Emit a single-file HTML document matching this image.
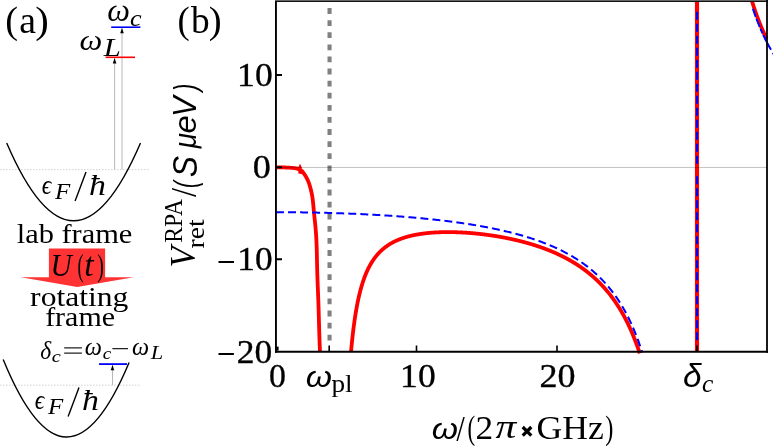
<!DOCTYPE html>
<html><head><meta charset="utf-8"><title>fig</title>
<style>
html,body{margin:0;padding:0;background:#fff;}
body{width:773px;height:446px;overflow:hidden;font-family:"Liberation Serif",serif;}
svg{display:block;will-change:transform;}
text{font-size:100px;}
</style></head><body>
<svg width="773" height="446" viewBox="0 0 773 446">
<rect width="773" height="446" fill="#fff"/>
<line x1="329.55" y1="8.1" x2="329.55" y2="341" stroke="#808080" stroke-width="4.1" stroke-dasharray="5.8 6.3"/>
<g fill="none" stroke="#ff0000" stroke-width="3.8" stroke-linejoin="round">
<path d="M276.00,167.30 L277.06,167.30 L278.11,167.31 L279.17,167.32 L280.22,167.34 L281.28,167.36 L282.34,167.38 L283.39,167.41 L284.45,167.45 L285.50,167.49 L286.56,167.54 L287.61,167.59 L288.67,167.65 L289.72,167.72 L290.77,167.80 L291.83,167.88 L292.88,167.98 L293.93,168.09 L294.98,168.22 L296.03,168.39 L297.06,168.60 L298.08,168.89 L299.07,169.27 L300.03,169.74 L300.93,170.31 L301.76,170.96 L302.51,171.70 L303.18,172.51 L303.81,173.37 L304.40,174.25 L304.98,175.14 L305.54,176.04 L306.09,176.95 L306.61,177.86 L307.10,178.80 L307.56,179.74 L307.99,180.71 L308.39,181.69 L308.77,182.67 L309.12,183.67 L309.45,184.68 L309.76,185.69 L310.06,186.70 L310.34,187.72 L310.61,188.74 L310.87,189.76 L311.13,190.79 L311.37,191.82 L311.60,192.85 L311.82,193.88 L312.02,194.92 L312.20,195.96 L312.37,197.00 L312.52,198.04 L312.66,199.09 L312.79,200.14 L312.91,201.19 L313.02,202.24 L313.13,203.29 L313.23,204.34 L313.33,205.40 L313.43,206.45 L313.52,207.50 L313.62,208.55 L313.71,209.60 L313.81,210.65 L313.91,211.71 L314.01,212.76 L314.11,213.81 L314.21,214.86 L314.32,215.91 L314.43,216.96 L314.54,218.01 L314.66,219.06 L314.77,220.11 L314.88,221.16 L314.99,222.21 L315.10,223.26 L315.21,224.31 L315.31,225.36 L315.42,226.41 L315.52,227.47 L315.61,228.52 L315.70,229.57 L315.79,230.62 L315.87,231.68 L315.95,232.73 L316.02,233.78 L316.09,234.84 L316.16,235.89 L316.22,236.94 L316.28,238.00 L316.34,239.05 L316.39,240.11 L316.44,241.16 L316.49,242.22 L316.53,243.28 L316.57,244.33 L316.61,245.39 L316.65,246.44 L316.69,247.50 L316.72,248.55 L316.75,249.61 L316.78,250.66 L316.80,251.72 L316.83,252.78 L316.85,253.83 L316.88,254.89 L316.90,255.94 L316.92,257.00 L316.94,258.06 L316.96,259.11 L316.99,260.17 L317.01,261.22 L317.03,262.28 L317.05,263.34 L317.07,264.39 L317.09,265.45 L317.12,266.50 L317.14,267.56 L317.16,268.61 L317.19,269.67 L317.22,270.73 L317.25,271.78 L317.28,272.84 L317.31,273.89 L317.35,274.95 L317.38,276.00 L317.42,277.06 L317.45,278.11 L317.49,279.17 L317.53,280.23 L317.57,281.28 L317.61,282.34 L317.65,283.39 L317.69,284.45 L317.73,285.50 L317.78,286.56 L317.82,287.61 L317.86,288.67 L317.90,289.72 L317.94,290.78 L317.99,291.83 L318.03,292.89 L318.07,293.95 L318.11,295.00 L318.15,296.06 L318.19,297.11 L318.23,298.17 L318.27,299.22 L318.31,300.28 L318.35,301.33 L318.38,302.39 L318.42,303.44 L318.45,304.50 L318.49,305.56 L318.52,306.61 L318.56,307.67 L318.59,308.72 L318.62,309.78 L318.65,310.83 L318.68,311.89 L318.71,312.94 L318.75,314.00 L318.78,315.06 L318.81,316.11 L318.84,317.17 L318.87,318.22 L318.89,319.28 L318.92,320.33 L318.95,321.39 L318.98,322.45 L319.01,323.50 L319.04,324.56 L319.07,325.61 L319.10,326.67 L319.13,327.72 L319.16,328.78 L319.20,329.84 L319.23,330.89 L319.26,331.95 L319.29,333.00 L319.32,334.06 L319.36,335.11 L319.39,336.17 L319.43,337.23 L319.46,338.28 L319.50,339.34 L319.53,340.39 L319.57,341.45 L319.61,342.50 L319.65,343.56 L319.69,344.61 L319.73,345.67 L319.77,346.72 L319.82,347.78 L319.86,348.83 L319.91,349.89 L319.95,350.94 L320.00,352.00"/>
<path d="M351.05,351.56 L351.25,349.33 L351.46,347.16 L351.66,345.06 L351.86,343.02 L352.06,341.03 L352.26,339.10 L352.47,337.23 L352.67,335.41 L352.87,333.63 L353.07,331.91 L353.27,330.23 L353.48,328.59 L353.68,327.00 L353.88,325.44 L354.08,323.93 L354.29,322.45 L354.49,321.01 L354.69,319.60 L354.89,318.23 L355.09,316.89 L355.30,315.58 L355.50,314.30 L355.70,313.06 L355.90,311.83 L356.10,310.64 L356.31,309.48 L356.51,308.33 L356.71,307.22 L356.91,306.13 L357.12,305.06 L357.32,304.01 L357.52,302.99 L357.72,301.99 L357.92,301.00 L358.13,300.04 L358.33,299.10 L358.53,298.18 L358.73,297.27 L358.94,296.38 L359.14,295.51 L359.34,294.66 L359.54,293.82 L359.74,293.00 L359.95,292.19 L360.15,291.40 L360.35,290.63 L360.55,289.86 L360.75,289.12 L360.96,288.38 L361.16,287.66 L361.36,286.95 L361.56,286.25 L361.77,285.57 L361.97,284.90 L362.17,284.24 L362.37,283.59 L362.57,282.95 L362.78,282.32 L362.98,281.70 L363.18,281.10 L363.38,280.50 L363.59,279.91 L363.79,279.33 L363.99,278.76 L364.19,278.20 L364.39,277.65 L364.60,277.11 L364.80,276.58 L365.00,276.05 L365.20,275.54 L365.40,275.03 L365.61,274.53 L365.81,274.03 L366.01,273.55 L366.21,273.07 L366.42,272.59 L366.62,272.13 L366.82,271.67 L367.02,271.22 L367.22,270.78 L367.43,270.34 L367.63,269.90 L367.83,269.48 L368.03,269.06 L368.23,268.64 L368.44,268.24 L368.64,267.83 L368.84,267.44 L369.04,267.05 L369.25,266.66 L369.45,266.28 L369.65,265.90 L369.85,265.53 L370.05,265.17 L370.26,264.81 L370.46,264.45 L370.66,264.10 L370.86,263.75 L371.07,263.41 L371.27,263.07 L371.47,262.74 L371.67,262.41 L371.87,262.08 L372.08,261.76 L372.28,261.45 L372.48,261.13 L372.68,260.82 L372.88,260.52 L373.09,260.22 L373.29,259.92 L373.49,259.63 L373.69,259.34 L373.90,259.05 L374.10,258.77 L374.30,258.49 L374.50,258.21 L374.70,257.94 L374.91,257.67 L375.11,257.40 L375.31,257.14 L375.51,256.88 L375.72,256.62 L375.92,256.37 L376.12,256.11 L376.32,255.87 L376.52,255.62 L376.73,255.38 L376.93,255.14 L377.13,254.90 L377.33,254.67 L377.53,254.43 L377.74,254.21 L377.94,253.98 L378.14,253.75 L378.34,253.53 L378.55,253.31 L378.75,253.10 L378.95,252.88 L379.15,252.67 L379.35,252.46 L379.56,252.25 L379.76,252.05 L379.96,251.84 L380.16,251.64 L380.36,251.45 L380.57,251.25 L380.77,251.05 L380.97,250.86 L381.17,250.67 L381.38,250.48 L381.58,250.30 L381.78,250.11 L381.98,249.93 L382.18,249.75 L382.39,249.57 L382.59,249.39 L382.79,249.22 L382.99,249.05 L383.20,248.87 L383.40,248.70 L383.60,248.54 L383.80,248.37 L384.00,248.21 L384.21,248.04 L384.41,247.88 L384.61,247.72 L384.81,247.56 L385.01,247.41 L385.22,247.25 L385.42,247.10 L385.62,246.95 L385.82,246.80 L386.03,246.65 L386.23,246.50 L386.43,246.36 L386.63,246.21 L386.83,246.07 L387.04,245.93 L387.24,245.79 L387.44,245.65 L387.64,245.51 L387.85,245.37 L388.05,245.24 L388.25,245.11 L388.45,244.97 L388.65,244.84 L388.86,244.71 L389.06,244.58 L389.26,244.46 L389.46,244.33 L389.66,244.21 L389.87,244.08 L390.07,243.96 L390.27,243.84 L390.47,243.72 L390.68,243.60 L390.88,243.48 L391.08,243.36 L391.28,243.25 L391.48,243.13 L391.69,243.02 L391.89,242.91 L392.09,242.79 L392.29,242.68 L392.49,242.57 L392.70,242.47 L392.90,242.36 L393.10,242.25 L393.30,242.15 L393.51,242.04 L393.71,241.94 L393.91,241.83 L394.11,241.73 L394.31,241.63 L394.52,241.53 L394.72,241.43 L394.92,241.34 L395.12,241.24 L395.33,241.14 L395.53,241.05 L395.73,240.95 L395.93,240.86 L396.13,240.76 L396.34,240.67 L396.54,240.58 L396.74,240.49 L396.94,240.40 L397.14,240.31 L397.35,240.22 L397.55,240.14 L397.75,240.05 L397.95,239.97 L398.16,239.88 L398.36,239.80 L398.56,239.71 L398.76,239.63 L398.96,239.55 L399.17,239.47 L399.37,239.39 L399.57,239.31 L399.77,239.23 L399.98,239.15 L400.18,239.07 L400.38,238.99 L400.58,238.92 L400.78,238.84 L400.99,238.77 L401.19,238.69 L401.39,238.62 L401.59,238.55 L401.79,238.47 L402.00,238.40 L402.20,238.33 L402.40,238.26 L402.60,238.19 L402.81,238.12 L403.01,238.05 L403.21,237.99 L403.41,237.92 L403.61,237.85 L403.82,237.79 L404.02,237.72 L404.22,237.65 L404.42,237.59 L404.62,237.53 L404.83,237.46 L405.03,237.40 L405.23,237.34 L405.43,237.28 L405.64,237.22 L405.84,237.15 L406.04,237.09 L406.24,237.04 L406.44,236.98 L406.65,236.92 L406.85,236.86 L407.05,236.80 L407.25,236.75 L407.46,236.69 L407.66,236.63 L407.86,236.58 L408.06,236.52 L408.26,236.47 L408.47,236.41 L408.67,236.36 L408.87,236.31 L409.07,236.26 L409.27,236.20 L409.48,236.15 L409.68,236.10 L409.88,236.05 L410.08,236.00 L410.29,235.95 L410.49,235.90 L410.69,235.85 L410.89,235.80 L411.09,235.76 L411.30,235.71 L411.50,235.66 L411.70,235.62 L411.90,235.57 L412.11,235.52 L412.31,235.48 L412.51,235.43 L412.71,235.39 L412.91,235.34 L413.12,235.30 L413.32,235.26 L413.52,235.21 L413.72,235.17 L413.92,235.13 L414.13,235.09 L414.33,235.05 L414.53,235.01 L414.73,234.97 L414.94,234.92 L415.14,234.89 L415.34,234.85 L415.54,234.81 L415.74,234.77 L415.95,234.73 L416.15,234.69 L416.35,234.65 L416.55,234.62 L416.75,234.58 L416.96,234.54 L417.16,234.51 L417.36,234.47 L417.56,234.44 L417.77,234.40 L417.97,234.37 L418.17,234.33 L418.37,234.30 L418.57,234.26 L418.78,234.23 L418.98,234.20 L419.18,234.16 L419.38,234.13 L419.59,234.10 L419.79,234.07 L419.99,234.04 L420.19,234.01 L420.39,233.97 L420.60,233.94 L420.80,233.91 L421.00,233.88 L421.20,233.85 L421.40,233.83 L421.61,233.80 L421.81,233.77 L422.01,233.74 L422.21,233.71 L422.42,233.68 L422.62,233.66 L422.82,233.63 L423.02,233.60 L423.22,233.58 L423.43,233.55 L423.63,233.52 L423.83,233.50 L424.03,233.47 L424.24,233.45 L424.44,233.42 L424.64,233.40 L424.84,233.37 L425.04,233.35 L425.25,233.33 L425.45,233.30 L425.65,233.28 L425.85,233.26 L426.05,233.23 L426.26,233.21 L426.46,233.19 L426.66,233.17 L426.86,233.15 L427.07,233.12 L427.27,233.10 L427.47,233.08 L427.67,233.06 L427.87,233.04 L428.08,233.02 L428.28,233.00 L428.48,232.98 L428.68,232.96 L428.88,232.94 L429.09,232.92 L429.29,232.91 L429.49,232.89 L429.69,232.87 L429.90,232.85 L430.10,232.83 L430.30,232.82 L430.50,232.80 L430.70,232.78 L430.91,232.77 L431.11,232.75 L431.31,232.73 L431.51,232.72 L431.72,232.70 L431.92,232.69 L432.12,232.67 L432.32,232.66 L432.52,232.64 L432.73,232.63 L432.93,232.61 L433.13,232.60 L433.33,232.58 L433.53,232.57 L433.74,232.56 L433.94,232.54 L434.14,232.53 L434.34,232.52 L434.55,232.51 L434.75,232.49 L434.95,232.48 L435.15,232.47 L435.35,232.46 L435.56,232.45 L435.76,232.43 L435.96,232.42 L436.16,232.41 L436.37,232.40 L436.57,232.39 L436.77,232.38 L436.97,232.37 L437.17,232.36 L437.38,232.35 L437.58,232.34 L437.78,232.33 L437.98,232.32 L438.18,232.31 L438.39,232.31 L438.59,232.30 L438.79,232.29 L438.99,232.28 L439.20,232.27 L439.40,232.27 L439.60,232.26 L439.80,232.25 L440.00,232.24 L440.21,232.24 L440.41,232.23 L440.61,232.22 L440.81,232.22 L441.01,232.21 L441.22,232.21 L441.42,232.20 L441.62,232.19 L441.82,232.19 L442.03,232.18 L442.23,232.18 L442.43,232.17 L442.63,232.17 L442.83,232.16 L443.04,232.16 L443.24,232.16 L443.44,232.15 L443.64,232.15 L443.85,232.14 L444.05,232.14 L444.25,232.14 L444.45,232.13 L444.65,232.13 L444.86,232.13 L445.06,232.13 L445.26,232.12 L445.46,232.12 L445.66,232.12 L445.87,232.12 L446.07,232.12 L446.27,232.11 L446.47,232.11 L446.68,232.11 L446.88,232.11 L447.08,232.11 L447.28,232.11 L447.48,232.11 L447.69,232.11 L447.89,232.11 L448.09,232.11 L448.29,232.11 L448.50,232.11 L448.70,232.11 L448.90,232.11 L449.10,232.11 L449.30,232.11 L449.51,232.11 L449.71,232.12 L449.91,232.12 L450.11,232.12 L450.31,232.12 L450.52,232.12 L450.72,232.12 L450.92,232.13 L451.12,232.13 L451.33,232.13 L451.53,232.13 L451.73,232.14 L451.93,232.14 L452.13,232.14 L452.34,232.15 L452.54,232.15 L452.74,232.15 L452.94,232.16 L453.14,232.16 L453.35,232.17 L453.55,232.17 L453.75,232.17 L453.95,232.18 L454.16,232.18 L454.36,232.19 L454.56,232.19 L454.76,232.20 L454.96,232.20 L455.17,232.21 L455.37,232.22 L455.57,232.22 L455.77,232.23 L455.98,232.23 L456.18,232.24 L456.38,232.25 L456.58,232.25 L456.78,232.26 L456.99,232.27 L457.19,232.27 L457.39,232.28 L457.59,232.29 L457.79,232.30 L458.00,232.30 L458.20,232.31 L458.40,232.32 L458.60,232.33 L458.81,232.34 L459.01,232.34 L459.21,232.35 L459.41,232.36 L459.61,232.37 L459.82,232.38 L460.02,232.39 L460.22,232.40 L460.42,232.41 L460.63,232.42 L460.83,232.43 L461.03,232.43 L461.23,232.44 L461.43,232.45 L461.64,232.47 L461.84,232.48 L462.04,232.49 L462.24,232.50 L462.44,232.51 L462.65,232.52 L462.85,232.53 L463.05,232.54 L463.25,232.55 L463.46,232.56 L463.66,232.57 L463.86,232.59 L464.06,232.60 L464.26,232.61 L464.47,232.62 L464.67,232.63 L464.87,232.65 L465.07,232.66 L465.27,232.67 L465.48,232.69 L465.68,232.70 L465.88,232.71 L466.08,232.72 L466.29,232.74 L466.49,232.75 L466.69,232.77 L466.89,232.78 L467.09,232.79 L467.30,232.81 L467.50,232.82 L467.70,232.84 L467.90,232.85 L468.11,232.86 L468.31,232.88 L468.51,232.89 L468.71,232.91 L468.91,232.92 L469.12,232.94 L469.32,232.95 L469.52,232.97 L469.72,232.99 L469.92,233.00 L470.13,233.02 L470.33,233.03 L470.53,233.05 L470.73,233.07 L470.94,233.08 L471.14,233.10 L471.34,233.12 L471.54,233.13 L471.74,233.15 L471.95,233.17 L472.15,233.18 L472.35,233.20 L472.55,233.22 L472.76,233.24 L472.96,233.25 L473.16,233.27 L473.36,233.29 L473.56,233.31 L473.77,233.33 L473.97,233.35 L474.17,233.36 L474.37,233.38 L474.57,233.40 L474.78,233.42 L474.98,233.44 L475.18,233.46 L475.38,233.48 L475.59,233.50 L475.79,233.52 L475.99,233.54 L476.19,233.56 L476.39,233.58 L476.60,233.60 L476.80,233.62 L477.00,233.64 L477.20,233.66 L477.40,233.68 L477.61,233.70 L477.81,233.72 L478.01,233.74 L478.21,233.76 L478.42,233.78 L478.62,233.81 L478.82,233.83 L479.02,233.85 L479.22,233.87 L479.43,233.89 L479.63,233.92 L479.83,233.94 L480.03,233.96 L480.24,233.98 L480.44,234.01 L480.64,234.03 L480.84,234.05 L481.04,234.07 L481.25,234.10 L481.45,234.12 L481.65,234.14 L481.85,234.17 L482.05,234.19 L482.26,234.21 L482.46,234.24 L482.66,234.26 L482.86,234.29 L483.07,234.31 L483.27,234.34 L483.47,234.36 L483.67,234.39 L483.87,234.41 L484.08,234.44 L484.28,234.46 L484.48,234.49 L484.68,234.51 L484.89,234.54 L485.09,234.56 L485.29,234.59 L485.49,234.61 L485.69,234.64 L485.90,234.67 L486.10,234.69 L486.30,234.72 L486.50,234.75 L486.70,234.77 L486.91,234.80 L487.11,234.83 L487.31,234.85 L487.51,234.88 L487.72,234.91 L487.92,234.93 L488.12,234.96 L488.32,234.99 L488.52,235.02 L488.73,235.05 L488.93,235.07 L489.13,235.10 L489.33,235.13 L489.53,235.16 L489.74,235.19 L489.94,235.22 L490.14,235.25 L490.34,235.27 L490.55,235.30 L490.75,235.33 L490.95,235.36 L491.15,235.39 L491.35,235.42 L491.56,235.45 L491.76,235.48 L491.96,235.51 L492.16,235.54 L492.37,235.57 L492.57,235.60 L492.77,235.63 L492.97,235.66 L493.17,235.70 L493.38,235.73 L493.58,235.76 L493.78,235.79 L493.98,235.82 L494.18,235.85 L494.39,235.88 L494.59,235.92 L494.79,235.95 L494.99,235.98 L495.20,236.01 L495.40,236.04 L495.60,236.08 L495.80,236.11 L496.00,236.14 L496.21,236.18 L496.41,236.21 L496.61,236.24 L496.81,236.27 L497.02,236.31 L497.22,236.34 L497.42,236.38 L497.62,236.41 L497.82,236.44 L498.03,236.48 L498.23,236.51 L498.43,236.55 L498.63,236.58 L498.83,236.62 L499.04,236.65 L499.24,236.69 L499.44,236.72 L499.64,236.76 L499.85,236.79 L500.05,236.83 L500.25,236.86 L500.45,236.90 L500.65,236.93 L500.86,236.97 L501.06,237.01 L501.26,237.04 L501.46,237.08 L501.66,237.12 L501.87,237.15 L502.07,237.19 L502.27,237.23 L502.47,237.26 L502.68,237.30 L502.88,237.34 L503.08,237.38 L503.28,237.42 L503.48,237.45 L503.69,237.49 L503.89,237.53 L504.09,237.57 L504.29,237.61 L504.50,237.65 L504.70,237.68 L504.90,237.72 L505.10,237.76 L505.30,237.80 L505.51,237.84 L505.71,237.88 L505.91,237.92 L506.11,237.96 L506.31,238.00 L506.52,238.04 L506.72,238.08 L506.92,238.12 L507.12,238.16 L507.33,238.20 L507.53,238.24 L507.73,238.28 L507.93,238.32 L508.13,238.37 L508.34,238.41 L508.54,238.45 L508.74,238.49 L508.94,238.53 L509.15,238.57 L509.35,238.62 L509.55,238.66 L509.75,238.70 L509.95,238.74 L510.16,238.79 L510.36,238.83 L510.56,238.87 L510.76,238.92 L510.96,238.96 L511.17,239.00 L511.37,239.05 L511.57,239.09 L511.77,239.14 L511.98,239.18 L512.18,239.22 L512.38,239.27 L512.58,239.31 L512.78,239.36 L512.99,239.40 L513.19,239.45 L513.39,239.49 L513.59,239.54 L513.79,239.58 L514.00,239.63 L514.20,239.68 L514.40,239.72 L514.60,239.77 L514.81,239.81 L515.01,239.86 L515.21,239.91 L515.41,239.95 L515.61,240.00 L515.82,240.05 L516.02,240.10 L516.22,240.14 L516.42,240.19 L516.63,240.24 L516.83,240.29 L517.03,240.34 L517.23,240.38 L517.43,240.43 L517.64,240.48 L517.84,240.53 L518.04,240.58 L518.24,240.63 L518.44,240.68 L518.65,240.73 L518.85,240.78 L519.05,240.83 L519.25,240.88 L519.46,240.93 L519.66,240.98 L519.86,241.03 L520.06,241.08 L520.26,241.13 L520.47,241.18 L520.67,241.23 L520.87,241.28 L521.07,241.33 L521.28,241.39 L521.48,241.44 L521.68,241.49 L521.88,241.54 L522.08,241.59 L522.29,241.65 L522.49,241.70 L522.69,241.75 L522.89,241.80 L523.09,241.86 L523.30,241.91 L523.50,241.97 L523.70,242.02 L523.90,242.07 L524.11,242.13 L524.31,242.18 L524.51,242.24 L524.71,242.29 L524.91,242.35 L525.12,242.40 L525.32,242.46 L525.52,242.51 L525.72,242.57 L525.92,242.62 L526.13,242.68 L526.33,242.73 L526.53,242.79 L526.73,242.85 L526.94,242.90 L527.14,242.96 L527.34,243.02 L527.54,243.07 L527.74,243.13 L527.95,243.19 L528.15,243.25 L528.35,243.31 L528.55,243.36 L528.76,243.42 L528.96,243.48 L529.16,243.54 L529.36,243.60 L529.56,243.66 L529.77,243.72 L529.97,243.78 L530.17,243.84 L530.37,243.90 L530.57,243.96 L530.78,244.02 L530.98,244.08 L531.18,244.14 L531.38,244.20 L531.59,244.26 L531.79,244.32 L531.99,244.38 L532.19,244.44 L532.39,244.50 L532.60,244.57 L532.80,244.63 L533.00,244.69 L533.20,244.75 L533.41,244.82 L533.61,244.88 L533.81,244.94 L534.01,245.01 L534.21,245.07 L534.42,245.13 L534.62,245.20 L534.82,245.26 L535.02,245.33 L535.22,245.39 L535.43,245.46 L535.63,245.52 L535.83,245.59 L536.03,245.65 L536.24,245.72 L536.44,245.78 L536.64,245.85 L536.84,245.92 L537.04,245.98 L537.25,246.05 L537.45,246.12 L537.65,246.19 L537.85,246.25 L538.05,246.32 L538.26,246.39 L538.46,246.46 L538.66,246.52 L538.86,246.59 L539.07,246.66 L539.27,246.73 L539.47,246.80 L539.67,246.87 L539.87,246.94 L540.08,247.01 L540.28,247.08 L540.48,247.15 L540.68,247.22 L540.89,247.29 L541.09,247.36 L541.29,247.43 L541.49,247.51 L541.69,247.58 L541.90,247.65 L542.10,247.72 L542.30,247.79 L542.50,247.87 L542.70,247.94 L542.91,248.01 L543.11,248.09 L543.31,248.16 L543.51,248.23 L543.72,248.31 L543.92,248.38 L544.12,248.46 L544.32,248.53 L544.52,248.61 L544.73,248.68 L544.93,248.76 L545.13,248.83 L545.33,248.91 L545.54,248.99 L545.74,249.06 L545.94,249.14 L546.14,249.22 L546.34,249.29 L546.55,249.37 L546.75,249.45 L546.95,249.53 L547.15,249.60 L547.35,249.68 L547.56,249.76 L547.76,249.84 L547.96,249.92 L548.16,250.00 L548.37,250.08 L548.57,250.16 L548.77,250.24 L548.97,250.32 L549.17,250.40 L549.38,250.48 L549.58,250.56 L549.78,250.65 L549.98,250.73 L550.18,250.81 L550.39,250.89 L550.59,250.98 L550.79,251.06 L550.99,251.14 L551.20,251.23 L551.40,251.31 L551.60,251.39 L551.80,251.48 L552.00,251.56 L552.21,251.65 L552.41,251.73 L552.61,251.82 L552.81,251.90 L553.02,251.99 L553.22,252.08 L553.42,252.16 L553.62,252.25 L553.82,252.34 L554.03,252.43 L554.23,252.51 L554.43,252.60 L554.63,252.69 L554.83,252.78 L555.04,252.87 L555.24,252.96 L555.44,253.05 L555.64,253.14 L555.85,253.23 L556.05,253.32 L556.25,253.41 L556.45,253.50 L556.65,253.59 L556.86,253.68 L557.06,253.77 L557.26,253.87 L557.46,253.96 L557.67,254.05 L557.87,254.15 L558.07,254.24 L558.27,254.33 L558.47,254.43 L558.68,254.52 L558.88,254.62 L559.08,254.71 L559.28,254.81 L559.48,254.90 L559.69,255.00 L559.89,255.10 L560.09,255.19 L560.29,255.29 L560.50,255.39 L560.70,255.49 L560.90,255.58 L561.10,255.68 L561.30,255.78 L561.51,255.88 L561.71,255.98 L561.91,256.08 L562.11,256.18 L562.31,256.28 L562.52,256.38 L562.72,256.48 L562.92,256.58 L563.12,256.69 L563.33,256.79 L563.53,256.89 L563.73,256.99 L563.93,257.10 L564.13,257.20 L564.34,257.30 L564.54,257.41 L564.74,257.51 L564.94,257.62 L565.15,257.72 L565.35,257.83 L565.55,257.94 L565.75,258.04 L565.95,258.15 L566.16,258.26 L566.36,258.36 L566.56,258.47 L566.76,258.58 L566.96,258.69 L567.17,258.80 L567.37,258.91 L567.57,259.02 L567.77,259.13 L567.98,259.24 L568.18,259.35 L568.38,259.46 L568.58,259.57 L568.78,259.69 L568.99,259.80 L569.19,259.91 L569.39,260.03 L569.59,260.14 L569.80,260.25 L570.00,260.37 L570.20,260.48 L570.40,260.60 L570.60,260.71 L570.81,260.83 L571.01,260.95 L571.21,261.06 L571.41,261.18 L571.61,261.30 L571.82,261.42 L572.02,261.54 L572.22,261.66 L572.42,261.78 L572.63,261.90 L572.83,262.02 L573.03,262.14 L573.23,262.26 L573.43,262.38 L573.64,262.50 L573.84,262.63 L574.04,262.75 L574.24,262.87 L574.44,263.00 L574.65,263.12 L574.85,263.25 L575.05,263.37 L575.25,263.50 L575.46,263.62 L575.66,263.75 L575.86,263.88 L576.06,264.01 L576.26,264.14 L576.47,264.26 L576.67,264.39 L576.87,264.52 L577.07,264.65 L577.28,264.78 L577.48,264.91 L577.68,265.05 L577.88,265.18 L578.08,265.31 L578.29,265.44 L578.49,265.58 L578.69,265.71 L578.89,265.85 L579.09,265.98 L579.30,266.12 L579.50,266.25 L579.70,266.39 L579.90,266.53 L580.11,266.66 L580.31,266.80 L580.51,266.94 L580.71,267.08 L580.91,267.22 L581.12,267.36 L581.32,267.50 L581.52,267.64 L581.72,267.78 L581.93,267.93 L582.13,268.07 L582.33,268.21 L582.53,268.36 L582.73,268.50 L582.94,268.65 L583.14,268.79 L583.34,268.94 L583.54,269.08 L583.74,269.23 L583.95,269.38 L584.15,269.53 L584.35,269.68 L584.55,269.83 L584.76,269.98 L584.96,270.13 L585.16,270.28 L585.36,270.43 L585.56,270.58 L585.77,270.74 L585.97,270.89 L586.17,271.05 L586.37,271.20 L586.57,271.36 L586.78,271.51 L586.98,271.67 L587.18,271.83 L587.38,271.98 L587.59,272.14 L587.79,272.30 L587.99,272.46 L588.19,272.62 L588.39,272.78 L588.60,272.95 L588.80,273.11 L589.00,273.27 L589.20,273.44 L589.41,273.60 L589.61,273.77 L589.81,273.93 L590.01,274.10 L590.21,274.27 L590.42,274.43 L590.62,274.60 L590.82,274.77 L591.02,274.94 L591.22,275.11 L591.43,275.28 L591.63,275.45 L591.83,275.63 L592.03,275.80 L592.24,275.97 L592.44,276.15 L592.64,276.33 L592.84,276.50 L593.04,276.68 L593.25,276.86 L593.45,277.03 L593.65,277.21 L593.85,277.39 L594.06,277.57 L594.26,277.76 L594.46,277.94 L594.66,278.12 L594.86,278.31 L595.07,278.49 L595.27,278.68 L595.47,278.86 L595.67,279.05 L595.87,279.24 L596.08,279.42 L596.28,279.61 L596.48,279.80 L596.68,279.99 L596.89,280.19 L597.09,280.38 L597.29,280.57 L597.49,280.77 L597.69,280.96 L597.90,281.16 L598.10,281.35 L598.30,281.55 L598.50,281.75 L598.70,281.95 L598.91,282.15 L599.11,282.35 L599.31,282.55 L599.51,282.76 L599.72,282.96 L599.92,283.16 L600.12,283.37 L600.32,283.58 L600.52,283.78 L600.73,283.99 L600.93,284.20 L601.13,284.41 L601.33,284.62 L601.54,284.83 L601.74,285.05 L601.94,285.26 L602.14,285.48 L602.34,285.69 L602.55,285.91 L602.75,286.13 L602.95,286.34 L603.15,286.56 L603.35,286.78 L603.56,287.01 L603.76,287.23 L603.96,287.45 L604.16,287.68 L604.37,287.90 L604.57,288.13 L604.77,288.36 L604.97,288.59 L605.17,288.82 L605.38,289.05 L605.58,289.28 L605.78,289.51 L605.98,289.75 L606.19,289.98 L606.39,290.22 L606.59,290.46 L606.79,290.70 L606.99,290.94 L607.20,291.18 L607.40,291.42 L607.60,291.66 L607.80,291.91 L608.00,292.15 L608.21,292.40 L608.41,292.65 L608.61,292.89 L608.81,293.15 L609.02,293.40 L609.22,293.65 L609.42,293.90 L609.62,294.16 L609.82,294.41 L610.03,294.67 L610.23,294.93 L610.43,295.19 L610.63,295.45 L610.83,295.72 L611.04,295.98 L611.24,296.24 L611.44,296.51 L611.64,296.78 L611.85,297.05 L612.05,297.32 L612.25,297.59 L612.45,297.86 L612.65,298.14 L612.86,298.41 L613.06,298.69 L613.26,298.97 L613.46,299.25 L613.67,299.53 L613.87,299.82 L614.07,300.10 L614.27,300.39 L614.47,300.67 L614.68,300.96 L614.88,301.25 L615.08,301.54 L615.28,301.84 L615.48,302.13 L615.69,302.43 L615.89,302.73 L616.09,303.03 L616.29,303.33 L616.50,303.63 L616.70,303.93 L616.90,304.24 L617.10,304.55 L617.30,304.86 L617.51,305.17 L617.71,305.48 L617.91,305.79 L618.11,306.11 L618.32,306.42 L618.52,306.74 L618.72,307.06 L618.92,307.39 L619.12,307.71 L619.33,308.04 L619.53,308.36 L619.73,308.69 L619.93,309.02 L620.13,309.36 L620.34,309.69 L620.54,310.03 L620.74,310.37 L620.94,310.71 L621.15,311.05 L621.35,311.39 L621.55,311.74 L621.75,312.09 L621.95,312.44 L622.16,312.79 L622.36,313.14 L622.56,313.50 L622.76,313.86 L622.96,314.22 L623.17,314.58 L623.37,314.94 L623.57,315.31 L623.77,315.68 L623.98,316.05 L624.18,316.42 L624.38,316.80 L624.58,317.17 L624.78,317.55 L624.99,317.93 L625.19,318.31 L625.39,318.70 L625.59,319.09 L625.80,319.48 L626.00,319.87 L626.20,320.27 L626.40,320.66 L626.60,321.06 L626.81,321.46 L627.01,321.87 L627.21,322.27 L627.41,322.68 L627.61,323.09 L627.82,323.51 L628.02,323.92 L628.22,324.34 L628.42,324.77 L628.63,325.19 L628.83,325.62 L629.03,326.05 L629.23,326.48 L629.43,326.91 L629.64,327.35 L629.84,327.79 L630.04,328.23 L630.24,328.68 L630.45,329.13 L630.65,329.58 L630.85,330.03 L631.05,330.49 L631.25,330.95 L631.46,331.41 L631.66,331.88 L631.86,332.35 L632.06,332.82 L632.26,333.29 L632.47,333.77 L632.67,334.25 L632.87,334.73 L633.07,335.22 L633.28,335.71 L633.48,336.21 L633.68,336.70 L633.88,337.20 L634.08,337.71 L634.29,338.21 L634.49,338.72 L634.69,339.24 L634.89,339.75 L635.09,340.27 L635.30,340.80 L635.50,341.33 L635.70,341.86 L635.90,342.39 L636.11,342.93 L636.31,343.47 L636.51,344.02 L636.71,344.57 L636.91,345.12 L637.12,345.68 L637.32,346.24 L637.52,346.80 L637.72,347.37 L637.93,347.95 L638.13,348.52 L638.33,349.10 L638.53,349.69 L638.73,350.28 L638.94,350.87 L639.14,351.47 L639.34,352.07 L639.54,352.68 L639.74,353.29"/>
<path d="M751.32,-1.13 L751.66,-0.00 L752.00,1.11 L752.34,2.21 L752.67,3.30 L753.01,4.37 L753.35,5.43 L753.69,6.48 L754.02,7.52 L754.36,8.54 L754.70,9.55 L755.04,10.55 L755.37,11.53 L755.71,12.51 L756.05,13.47 L756.38,14.42 L756.72,15.36 L757.06,16.29 L757.40,17.21 L757.73,18.12 L758.07,19.02 L758.41,19.91 L758.75,20.79 L759.08,21.66 L759.42,22.52 L759.76,23.36 L760.10,24.20 L760.43,25.04 L760.77,25.86 L761.11,26.67 L761.45,27.47 L761.78,28.27 L762.12,29.06 L762.46,29.84 L762.80,30.61 L763.13,31.37 L763.47,32.12 L763.81,32.87 L764.15,33.61 L764.48,34.34 L764.82,35.07 L765.16,35.78 L765.50,36.49 L765.83,37.19 L766.17,37.89 L766.51,38.58"/>
<line x1="697" y1="0" x2="697" y2="351.5" stroke-width="4.1"/>
</g>
<polygon points="297.6,168.6 300,163.8 302.3,168.6" fill="#ff0000"/>
<polygon points="298.2,170 303.5,172 302.5,174.2 298.4,173.4" fill="#ff0000"/>
<g fill="none" stroke="#0000ff" stroke-width="2">
<path d="M276.00,212.19 L276.92,212.19 L277.85,212.19 L278.77,212.20 L279.70,212.20 L280.62,212.20 L281.55,212.20 L282.47,212.20 L283.40,212.21 L284.32,212.21 L285.25,212.22 L286.17,212.22 L287.10,212.22 L288.02,212.23 L288.95,212.24 L289.87,212.24 L290.80,212.25 L291.72,212.26 L292.65,212.26 L293.57,212.27 L294.50,212.28 L295.42,212.29 L296.35,212.30 L297.27,212.31 L298.19,212.32 L299.12,212.33 L300.04,212.34 L300.97,212.35 L301.89,212.36 L302.82,212.38 L303.74,212.39 L304.67,212.40 L305.59,212.42 L306.52,212.43 L307.44,212.45 L308.37,212.46 L309.29,212.48 L310.22,212.49 L311.14,212.51 L312.07,212.53 L312.99,212.54 L313.92,212.56 L314.84,212.58 L315.77,212.60 L316.69,212.62 L317.62,212.64 L318.54,212.66 L319.46,212.68 L320.39,212.70 L321.31,212.72 L322.24,212.74 L323.16,212.77 L324.09,212.79 L325.01,212.81 L325.94,212.84 L326.86,212.86 L327.79,212.89 L328.71,212.91 L329.64,212.94 L330.56,212.96 L331.49,212.99 L332.41,213.02 L333.34,213.04 L334.26,213.07 L335.19,213.10 L336.11,213.13 L337.04,213.16 L337.96,213.19 L338.89,213.22 L339.81,213.25 L340.73,213.28 L341.66,213.32 L342.58,213.35 L343.51,213.38 L344.43,213.42 L345.36,213.45 L346.28,213.48 L347.21,213.52 L348.13,213.56 L349.06,213.59 L349.98,213.63 L350.91,213.67 L351.83,213.70 L352.76,213.74 L353.68,213.78 L354.61,213.82 L355.53,213.86 L356.46,213.90 L357.38,213.94 L358.31,213.98 L359.23,214.02 L360.16,214.07 L361.08,214.11 L362.00,214.15 L362.93,214.20 L363.85,214.24 L364.78,214.29 L365.70,214.33 L366.63,214.38 L367.55,214.43 L368.48,214.48 L369.40,214.52 L370.33,214.57 L371.25,214.62 L372.18,214.67 L373.10,214.72 L374.03,214.77 L374.95,214.83 L375.88,214.88 L376.80,214.93 L377.73,214.98 L378.65,215.04 L379.58,215.09 L380.50,215.15 L381.43,215.21 L382.35,215.26 L383.27,215.32 L384.20,215.38 L385.12,215.44 L386.05,215.50 L386.97,215.56 L387.90,215.62 L388.82,215.68 L389.75,215.74 L390.67,215.80 L391.60,215.86 L392.52,215.93 L393.45,215.99 L394.37,216.06 L395.30,216.12 L396.22,216.19 L397.15,216.26 L398.07,216.33 L399.00,216.39 L399.92,216.46 L400.85,216.53 L401.77,216.60 L402.70,216.68 L403.62,216.75 L404.55,216.82 L405.47,216.90 L406.39,216.97 L407.32,217.05 L408.24,217.12 L409.17,217.20 L410.09,217.28 L411.02,217.35 L411.94,217.43 L412.87,217.51 L413.79,217.59 L414.72,217.68 L415.64,217.76 L416.57,217.84 L417.49,217.93 L418.42,218.01 L419.34,218.10 L420.27,218.18 L421.19,218.27 L422.12,218.36 L423.04,218.45 L423.97,218.54 L424.89,218.63 L425.82,218.72 L426.74,218.81 L427.66,218.91 L428.59,219.00 L429.51,219.10 L430.44,219.19 L431.36,219.29 L432.29,219.39 L433.21,219.49 L434.14,219.59 L435.06,219.69 L435.99,219.79 L436.91,219.90 L437.84,220.00 L438.76,220.10 L439.69,220.21 L440.61,220.32 L441.54,220.43 L442.46,220.54 L443.39,220.65 L444.31,220.76 L445.24,220.87 L446.16,220.98 L447.09,221.10 L448.01,221.21 L448.93,221.33 L449.86,221.45 L450.78,221.57 L451.71,221.69 L452.63,221.81 L453.56,221.93 L454.48,222.06 L455.41,222.18 L456.33,222.31 L457.26,222.44 L458.18,222.57 L459.11,222.70 L460.03,222.83 L460.96,222.96 L461.88,223.10 L462.81,223.23 L463.73,223.37 L464.66,223.51 L465.58,223.64 L466.51,223.79 L467.43,223.93 L468.36,224.07 L469.28,224.22 L470.20,224.36 L471.13,224.51 L472.05,224.66 L472.98,224.81 L473.90,224.96 L474.83,225.12 L475.75,225.27 L476.68,225.43 L477.60,225.59 L478.53,225.75 L479.45,225.91 L480.38,226.08 L481.30,226.24 L482.23,226.41 L483.15,226.58 L484.08,226.75 L485.00,226.92 L485.93,227.09 L486.85,227.27 L487.78,227.45 L488.70,227.62 L489.63,227.81 L490.55,227.99 L491.47,228.17 L492.40,228.36 L493.32,228.55 L494.25,228.74 L495.17,228.93 L496.10,229.13 L497.02,229.32 L497.95,229.52 L498.87,229.72 L499.80,229.93 L500.72,230.13 L501.65,230.34 L502.57,230.55 L503.50,230.76 L504.42,230.98 L505.35,231.19 L506.27,231.41 L507.20,231.63 L508.12,231.86 L509.05,232.09 L509.97,232.31 L510.90,232.55 L511.82,232.78 L512.74,233.02 L513.67,233.26 L514.59,233.50 L515.52,233.74 L516.44,233.99 L517.37,234.24 L518.29,234.49 L519.22,234.75 L520.14,235.01 L521.07,235.27 L521.99,235.54 L522.92,235.80 L523.84,236.07 L524.77,236.35 L525.69,236.63 L526.62,236.91 L527.54,237.19 L528.47,237.48 L529.39,237.77 L530.32,238.07 L531.24,238.36 L532.17,238.66 L533.09,238.97 L534.01,239.28 L534.94,239.59 L535.86,239.91 L536.79,240.23 L537.71,240.55 L538.64,240.88 L539.56,241.22 L540.49,241.55 L541.41,241.90 L542.34,242.24 L543.26,242.59 L544.19,242.95 L545.11,243.31 L546.04,243.67 L546.96,244.04 L547.89,244.41 L548.81,244.79 L549.74,245.17 L550.66,245.56 L551.59,245.96 L552.51,246.36 L553.44,246.76 L554.36,247.17 L555.28,247.59 L556.21,248.01 L557.13,248.44 L558.06,248.87 L558.98,249.31 L559.91,249.76 L560.83,250.21 L561.76,250.67 L562.68,251.13 L563.61,251.60 L564.53,252.08 L565.46,252.57 L566.38,253.06 L567.31,253.56 L568.23,254.07 L569.16,254.59 L570.08,255.11 L571.01,255.64 L571.93,256.18 L572.86,256.73 L573.78,257.28 L574.71,257.85 L575.63,258.42 L576.55,259.01 L577.48,259.60 L578.40,260.20 L579.33,260.81 L580.25,261.43 L581.18,262.07 L582.10,262.71 L583.03,263.36 L583.95,264.03 L584.88,264.70 L585.80,265.39 L586.73,266.09 L587.65,266.80 L588.58,267.52 L589.50,268.26 L590.43,269.01 L591.35,269.77 L592.28,270.55 L593.20,271.34 L594.13,272.15 L595.05,272.97 L595.98,273.80 L596.90,274.65 L597.82,275.52 L598.75,276.41 L599.67,277.31 L600.60,278.23 L601.52,279.17 L602.45,280.12 L603.37,281.10 L604.30,282.09 L605.22,283.11 L606.15,284.15 L607.07,285.20 L608.00,286.29 L608.92,287.39 L609.85,288.52 L610.77,289.67 L611.70,290.85 L612.62,292.05 L613.55,293.28 L614.47,294.54 L615.40,295.83 L616.32,297.15 L617.25,298.50 L618.17,299.88 L619.10,301.29 L620.02,302.74 L620.94,304.23 L621.87,305.75 L622.79,307.31 L623.72,308.91 L624.64,310.55 L625.57,312.23 L626.49,313.96 L627.42,315.74 L628.34,317.56 L629.27,319.44 L630.19,321.36 L631.12,323.34 L632.04,325.38 L632.97,327.48 L633.89,329.64 L634.82,331.86 L635.74,334.15 L636.67,336.52 L637.59,338.95 L638.52,341.47 L639.44,344.06 L640.37,346.75 L641.29,349.52 L642.21,352.38" stroke-dasharray="7.95 4.1"/>
<path d="M752.91,8.70 L753.16,9.44 L753.41,10.17 L753.66,10.91 L753.91,11.65 L754.17,12.38 L754.42,13.12 L754.68,13.85 L754.94,14.59 L755.21,15.33 L755.48,16.06 L755.74,16.80 M756.49,18.80 L756.77,19.54 L757.05,20.27 L757.33,21.01 L757.62,21.75 L757.91,22.48 L758.20,23.22 L758.50,23.95 L758.79,24.69 L759.09,25.43 L759.40,26.16 L759.70,26.90 M760.55,28.90 L760.73,29.31 L760.91,29.72 L761.09,30.13 L761.26,30.54 L761.45,30.95 L761.63,31.35 L761.81,31.76 L761.99,32.17 L762.18,32.58 L762.36,32.99 L762.55,33.40 M763.24,34.90 L763.88,36.25 L764.52,37.59 L765.18,38.94 L765.86,40.28 L766.54,41.63 L767.24,42.97 L767.96,44.32 L768.69,45.66 L769.43,47.01 L770.19,48.35 L770.97,49.70 M772.82,52.80 L773.25,53.50 L773.69,54.20 L774.13,54.90 L774.58,55.60 L775.03,56.30 L775.49,57.00 L775.95,57.70 L776.42,58.40 L776.89,59.10 L777.37,59.80 L777.86,60.50"/>
<line x1="697.05" y1="11.8" x2="697.05" y2="164.1" stroke-dasharray="7.9 4.1" stroke-width="2.1"/>
<line x1="697.05" y1="176.3" x2="697.05" y2="344.5" stroke-dasharray="7.9 4.1" stroke-width="2.1"/>
</g>
<line x1="276" y1="167.45" x2="767" y2="167.45" stroke="#000" stroke-opacity="0.24" stroke-width="1"/>
<g stroke="#000" fill="none">
<path d="M275.95,0 V352.8" stroke-width="1.9"/>
<path d="M275,351.8 H768" stroke-width="2"/>
<path d="M275,0.5 H768" stroke-width="1" stroke="#666"/><path d="M275,1.5 H768" stroke-width="1" stroke="#111"/>
<path d="M767,0 V352.8" stroke-width="1.8"/>
<path d="M276,75 h6 M276,167.2 h6 M276,259.3 h6" stroke-width="2"/>
<path d="M276,348.6 h2.6" stroke-width="4"/>
<path d="M416.5,351.5 v-6 M557,351.5 v-6 M329.2,351.5 v-6 M696.9,351.5 v-6" stroke-width="1.6"/>
</g>
<path d="M218.5,261.9 H234 M218.5,354.1 H233.9" stroke="#000" stroke-width="2" fill="none"/>
<path d="M522.7,427 l8.6,8.6 M531.3,427 l-8.6,8.6" stroke="#000" stroke-width="3.2" fill="none"/>

<line x1="0" y1="169.6" x2="150" y2="169.6" stroke="#c0c0c0" stroke-width="0.7" stroke-dasharray="1.5 1.5"/>
<line x1="114.6" y1="169.6" x2="114.6" y2="58.3" stroke="#b8b8b8" stroke-width="1"/>
<line x1="122.0" y1="169.6" x2="122.0" y2="28.3" stroke="#b8b8b8" stroke-width="1"/>
<polygon points="114.6,58.1 112.8,63.4 116.4,63.4" fill="#000"/>
<polygon points="122.0,28.0 120.2,33.3 123.8,33.3" fill="#000"/>
<line x1="111.2" y1="27.2" x2="140.4" y2="27.2" stroke="#0000ff" stroke-width="1.6"/>
<line x1="105.6" y1="57.3" x2="135" y2="57.3" stroke="#ff0000" stroke-width="1.6"/>
<path d="M6.7,143 Q73.6,298.6 140.5,143" fill="none" stroke="#000" stroke-width="1.4"/>
<line x1="75.1" y1="201" x2="86" y2="171.9" stroke="#000" stroke-width="1.4"/>
<polygon points="48.9,248.5 105.1,248.5 105.1,277.3 133.6,277.3 77.2,287 21,277.3 48.9,277.3" fill="#ff3333"/>
<line x1="0" y1="385.2" x2="141" y2="385.2" stroke="#c0c0c0" stroke-width="0.7" stroke-dasharray="1.5 1.5"/>
<line x1="112.5" y1="385.2" x2="112.5" y2="365" stroke="#b8b8b8" stroke-width="1"/>
<polygon points="112.5,364.9 110.7,370.2 114.3,370.2" fill="#000"/>
<line x1="99" y1="364.1" x2="127" y2="364.1" stroke="#0000ff" stroke-width="1.8"/>
<path d="M3.2,359.4 Q66.15,513 129.1,362.6" fill="none" stroke="#000" stroke-width="1.4"/>
<line x1="68.1" y1="416.5" x2="79" y2="387.4" stroke="#000" stroke-width="1.4"/>
<path d="M64.2,347.9 H81.9 M64.2,353.1 H81.9 M112.4,348.6 H128" stroke="#222" stroke-width="1.2" fill="none"/>
<text transform="matrix(0.3559,0,0,0.3375,237.12,85.97)" font-family="&quot;Liberation Serif&quot;, serif" fill="#000" stroke="#000" stroke-width="1.0">10</text>
<text transform="matrix(0.3611,0,0,0.3375,252.87,178.07)" font-family="&quot;Liberation Serif&quot;, serif" fill="#000" stroke="#000" stroke-width="1.0">0</text>
<text transform="matrix(0.3537,0,0,0.3389,237.34,270.17)" font-family="&quot;Liberation Serif&quot;, serif" fill="#000" stroke="#000" stroke-width="1.0">10</text>
<text transform="matrix(0.3552,0,0,0.3389,236.79,362.67)" font-family="&quot;Liberation Serif&quot;, serif" fill="#000" stroke="#000" stroke-width="1.0">20</text>
<text transform="matrix(0.3383,0,0,0.3404,268.94,387.07)" font-family="&quot;Liberation Serif&quot;, serif" fill="#000" stroke="#000" stroke-width="1.0">0</text>
<text transform="matrix(0.3559,0,0,0.3404,400.12,387.07)" font-family="&quot;Liberation Serif&quot;, serif" fill="#000" stroke="#000" stroke-width="1.0">10</text>
<text transform="matrix(0.3605,0,0,0.3404,539.57,387.07)" font-family="&quot;Liberation Serif&quot;, serif" fill="#000" stroke="#000" stroke-width="1.0">20</text>
<text transform="matrix(0.3367,0,0,0.3040,305.75,386.72)" font-family="&quot;Liberation Sans&quot;, sans-serif" font-style="italic" fill="#000">ω</text>
<text transform="matrix(0.2720,0,0,0.2495,331.38,392.14)" font-family="&quot;Liberation Serif&quot;, serif" fill="#000">pl</text>
<text transform="matrix(0.3346,0,0,0.3280,682.95,386.69)" font-family="&quot;Liberation Sans&quot;, sans-serif" font-style="italic" fill="#000">δ</text>
<text transform="matrix(0.2560,0,0,0.2480,702.00,391.71)" font-family="&quot;Liberation Serif&quot;, serif" font-style="italic" fill="#000">c</text>
<text transform="matrix(0.3367,0,0,0.3022,431.75,438.53)" font-family="&quot;Liberation Sans&quot;, sans-serif" font-style="italic" fill="#000">ω</text>
<text transform="matrix(0.2011,0,0,0.3280,457.56,440.89)" font-family="&quot;Liberation Sans&quot;, sans-serif" font-style="italic" fill="#000">/</text>
<text transform="matrix(0.2311,0,0,0.3287,467.58,439.31)" font-family="&quot;Liberation Serif&quot;, serif" fill="#000">(</text>
<text transform="matrix(0.3532,0,0,0.3274,475.60,438.80)" font-family="&quot;Liberation Serif&quot;, serif" fill="#000">2</text>
<text transform="matrix(0.4141,0,0,0.3386,495.50,438.47)" font-family="&quot;Liberation Serif&quot;, serif" font-style="italic" fill="#000">π</text>
<text transform="matrix(0.3564,0,0,0.3404,536.49,438.67)" font-family="&quot;Liberation Serif&quot;, serif" fill="#000">GHz</text>
<text transform="matrix(0.2447,0,0,0.3287,605.24,439.31)" font-family="&quot;Liberation Serif&quot;, serif" fill="#000">)</text>
<text transform="matrix(0.3840,0,0,0.3721,5.20,32.56)" font-family="&quot;Liberation Serif&quot;, serif" fill="#000">(</text>
<text transform="matrix(0.3766,0,0,0.3820,19.22,33.30)" font-family="&quot;Liberation Serif&quot;, serif" fill="#000">a</text>
<text transform="matrix(0.4066,0,0,0.3721,35.33,32.56)" font-family="&quot;Liberation Serif&quot;, serif" fill="#000">)</text>
<text transform="matrix(0.3662,0,0,0.3721,177.46,32.56)" font-family="&quot;Liberation Serif&quot;, serif" fill="#000">(</text>
<text transform="matrix(0.3733,0,0,0.3826,191.00,33.30)" font-family="&quot;Liberation Serif&quot;, serif" fill="#000">b</text>
<text transform="matrix(0.3878,0,0,0.3721,208.79,32.56)" font-family="&quot;Liberation Serif&quot;, serif" fill="#000">)</text>
<g transform="rotate(-90)"><text transform="matrix(0.3408,0,0,0.3498,-267.40,195.45)" font-family="&quot;Liberation Serif&quot;, serif" font-style="italic" fill="#000">V</text></g>
<g transform="rotate(-90)"><text transform="matrix(0.2355,0,0,0.2441,-242.67,182.40)" font-family="&quot;Liberation Serif&quot;, serif" fill="#000">RPA</text></g>
<g transform="rotate(-90)"><text transform="matrix(0.2753,0,0,0.2493,-248.43,204.11)" font-family="&quot;Liberation Serif&quot;, serif" fill="#000">ret</text></g>
<g transform="rotate(-90)"><text transform="matrix(0.2149,0,0,0.3240,-195.76,196.39)" font-family="&quot;Liberation Sans&quot;, sans-serif" font-style="italic" fill="#000">/</text></g>
<g transform="rotate(-90)"><text transform="matrix(0.2107,0,0,0.3053,-187.89,195.72)" font-family="&quot;Liberation Sans&quot;, sans-serif" font-style="italic" fill="#000">(</text></g>
<g transform="rotate(-90)"><text transform="matrix(0.3184,0,0,0.3492,-177.20,196.75)" font-family="&quot;Liberation Sans&quot;, sans-serif" font-style="italic" fill="#000">S</text></g>
<g transform="rotate(-90)"><text transform="matrix(0.2768,0,0,0.3186,-148.14,195.83)" font-family="&quot;Liberation Sans&quot;, sans-serif" font-style="italic" fill="#000">μ</text></g>
<g transform="rotate(-90)"><text transform="matrix(0.3280,0,0,0.3129,-133.43,195.81)" font-family="&quot;Liberation Sans&quot;, sans-serif" font-style="italic" fill="#000">e</text></g>
<g transform="rotate(-90)"><text transform="matrix(0.3081,0,0,0.3257,-116.91,195.80)" font-family="&quot;Liberation Sans&quot;, sans-serif" font-style="italic" fill="#000">V</text></g>
<g transform="rotate(-90)"><text transform="matrix(0.2202,0,0,0.3053,-90.89,195.72)" font-family="&quot;Liberation Sans&quot;, sans-serif" font-style="italic" fill="#000">)</text></g>
<text transform="matrix(0.3216,0,0,0.3097,107.20,20.52)" font-family="&quot;Liberation Serif&quot;, serif" font-style="italic" fill="#000">ω</text>
<text transform="matrix(0.2607,0,0,0.2320,130.09,26.04)" font-family="&quot;Liberation Serif&quot;, serif" font-style="italic" fill="#000">c</text>
<text transform="matrix(0.3231,0,0,0.3014,79.49,49.93)" font-family="&quot;Liberation Serif&quot;, serif" font-style="italic" fill="#000">ω</text>
<text transform="matrix(0.3068,0,0,0.2484,103.78,55.60)" font-family="&quot;Liberation Serif&quot;, serif" font-style="italic" fill="#000">L</text>
<text transform="matrix(0.2370,0,0,0.2700,41.63,193.88)" font-family="&quot;Liberation Serif&quot;, serif" font-style="italic" fill="#000">ϵ</text>
<text transform="matrix(0.2498,0,0,0.2210,54.99,198.90)" font-family="&quot;Liberation Serif&quot;, serif" font-style="italic" fill="#000">F</text>
<text transform="matrix(0.3383,0,0,0.3001,88.94,194.60)" font-family="&quot;Liberation Serif&quot;, serif" font-style="italic" fill="#000">ħ</text>
<text transform="matrix(0.2370,0,0,0.2700,34.63,409.38)" font-family="&quot;Liberation Serif&quot;, serif" font-style="italic" fill="#000">ϵ</text>
<text transform="matrix(0.2498,0,0,0.2210,47.99,414.40)" font-family="&quot;Liberation Serif&quot;, serif" font-style="italic" fill="#000">F</text>
<text transform="matrix(0.3383,0,0,0.3001,81.94,410.10)" font-family="&quot;Liberation Serif&quot;, serif" font-style="italic" fill="#000">ħ</text>
<text transform="matrix(0.3043,0,0,0.2764,16.72,243.07)" font-family="&quot;Liberation Serif&quot;, serif" fill="#000">lab frame</text>
<text transform="matrix(0.2944,0,0,0.3126,50.60,276.11)" font-family="&quot;Liberation Serif&quot;, serif" font-style="italic" fill="#000">U</text>
<text transform="matrix(0.1849,0,0,0.3092,77.52,275.74)" font-family="&quot;Liberation Serif&quot;, serif" fill="#000">(</text>
<text transform="matrix(0.3378,0,0,0.3385,84.34,275.77)" font-family="&quot;Liberation Serif&quot;, serif" font-style="italic" fill="#000">t</text>
<text transform="matrix(0.1958,0,0,0.3092,97.29,275.74)" font-family="&quot;Liberation Serif&quot;, serif" fill="#000">)</text>
<text transform="matrix(0.3160,0,0,0.2728,30.11,305.83)" font-family="&quot;Liberation Serif&quot;, serif" fill="#000">rotating</text>
<text transform="matrix(0.2999,0,0,0.2669,45.13,326.48)" font-family="&quot;Liberation Serif&quot;, serif" fill="#000">frame</text>
<text transform="matrix(0.2347,0,0,0.2588,40.23,358.60)" font-family="&quot;Liberation Serif&quot;, serif" font-style="italic" fill="#000">δ</text>
<text transform="matrix(0.2039,0,0,0.1640,51.68,362.34)" font-family="&quot;Liberation Serif&quot;, serif" font-style="italic" fill="#000">c</text>
<text transform="matrix(0.2435,0,0,0.2436,84.64,355.02)" font-family="&quot;Liberation Serif&quot;, serif" font-style="italic" fill="#000">ω</text>
<text transform="matrix(0.1920,0,0,0.1640,102.80,358.74)" font-family="&quot;Liberation Serif&quot;, serif" font-style="italic" fill="#000">c</text>
<text transform="matrix(0.2420,0,0,0.2436,132.04,355.02)" font-family="&quot;Liberation Serif&quot;, serif" font-style="italic" fill="#000">ω</text>
<text transform="matrix(0.2240,0,0,0.1920,150.85,358.90)" font-family="&quot;Liberation Serif&quot;, serif" font-style="italic" fill="#000">L</text>
</svg>
</body></html>
